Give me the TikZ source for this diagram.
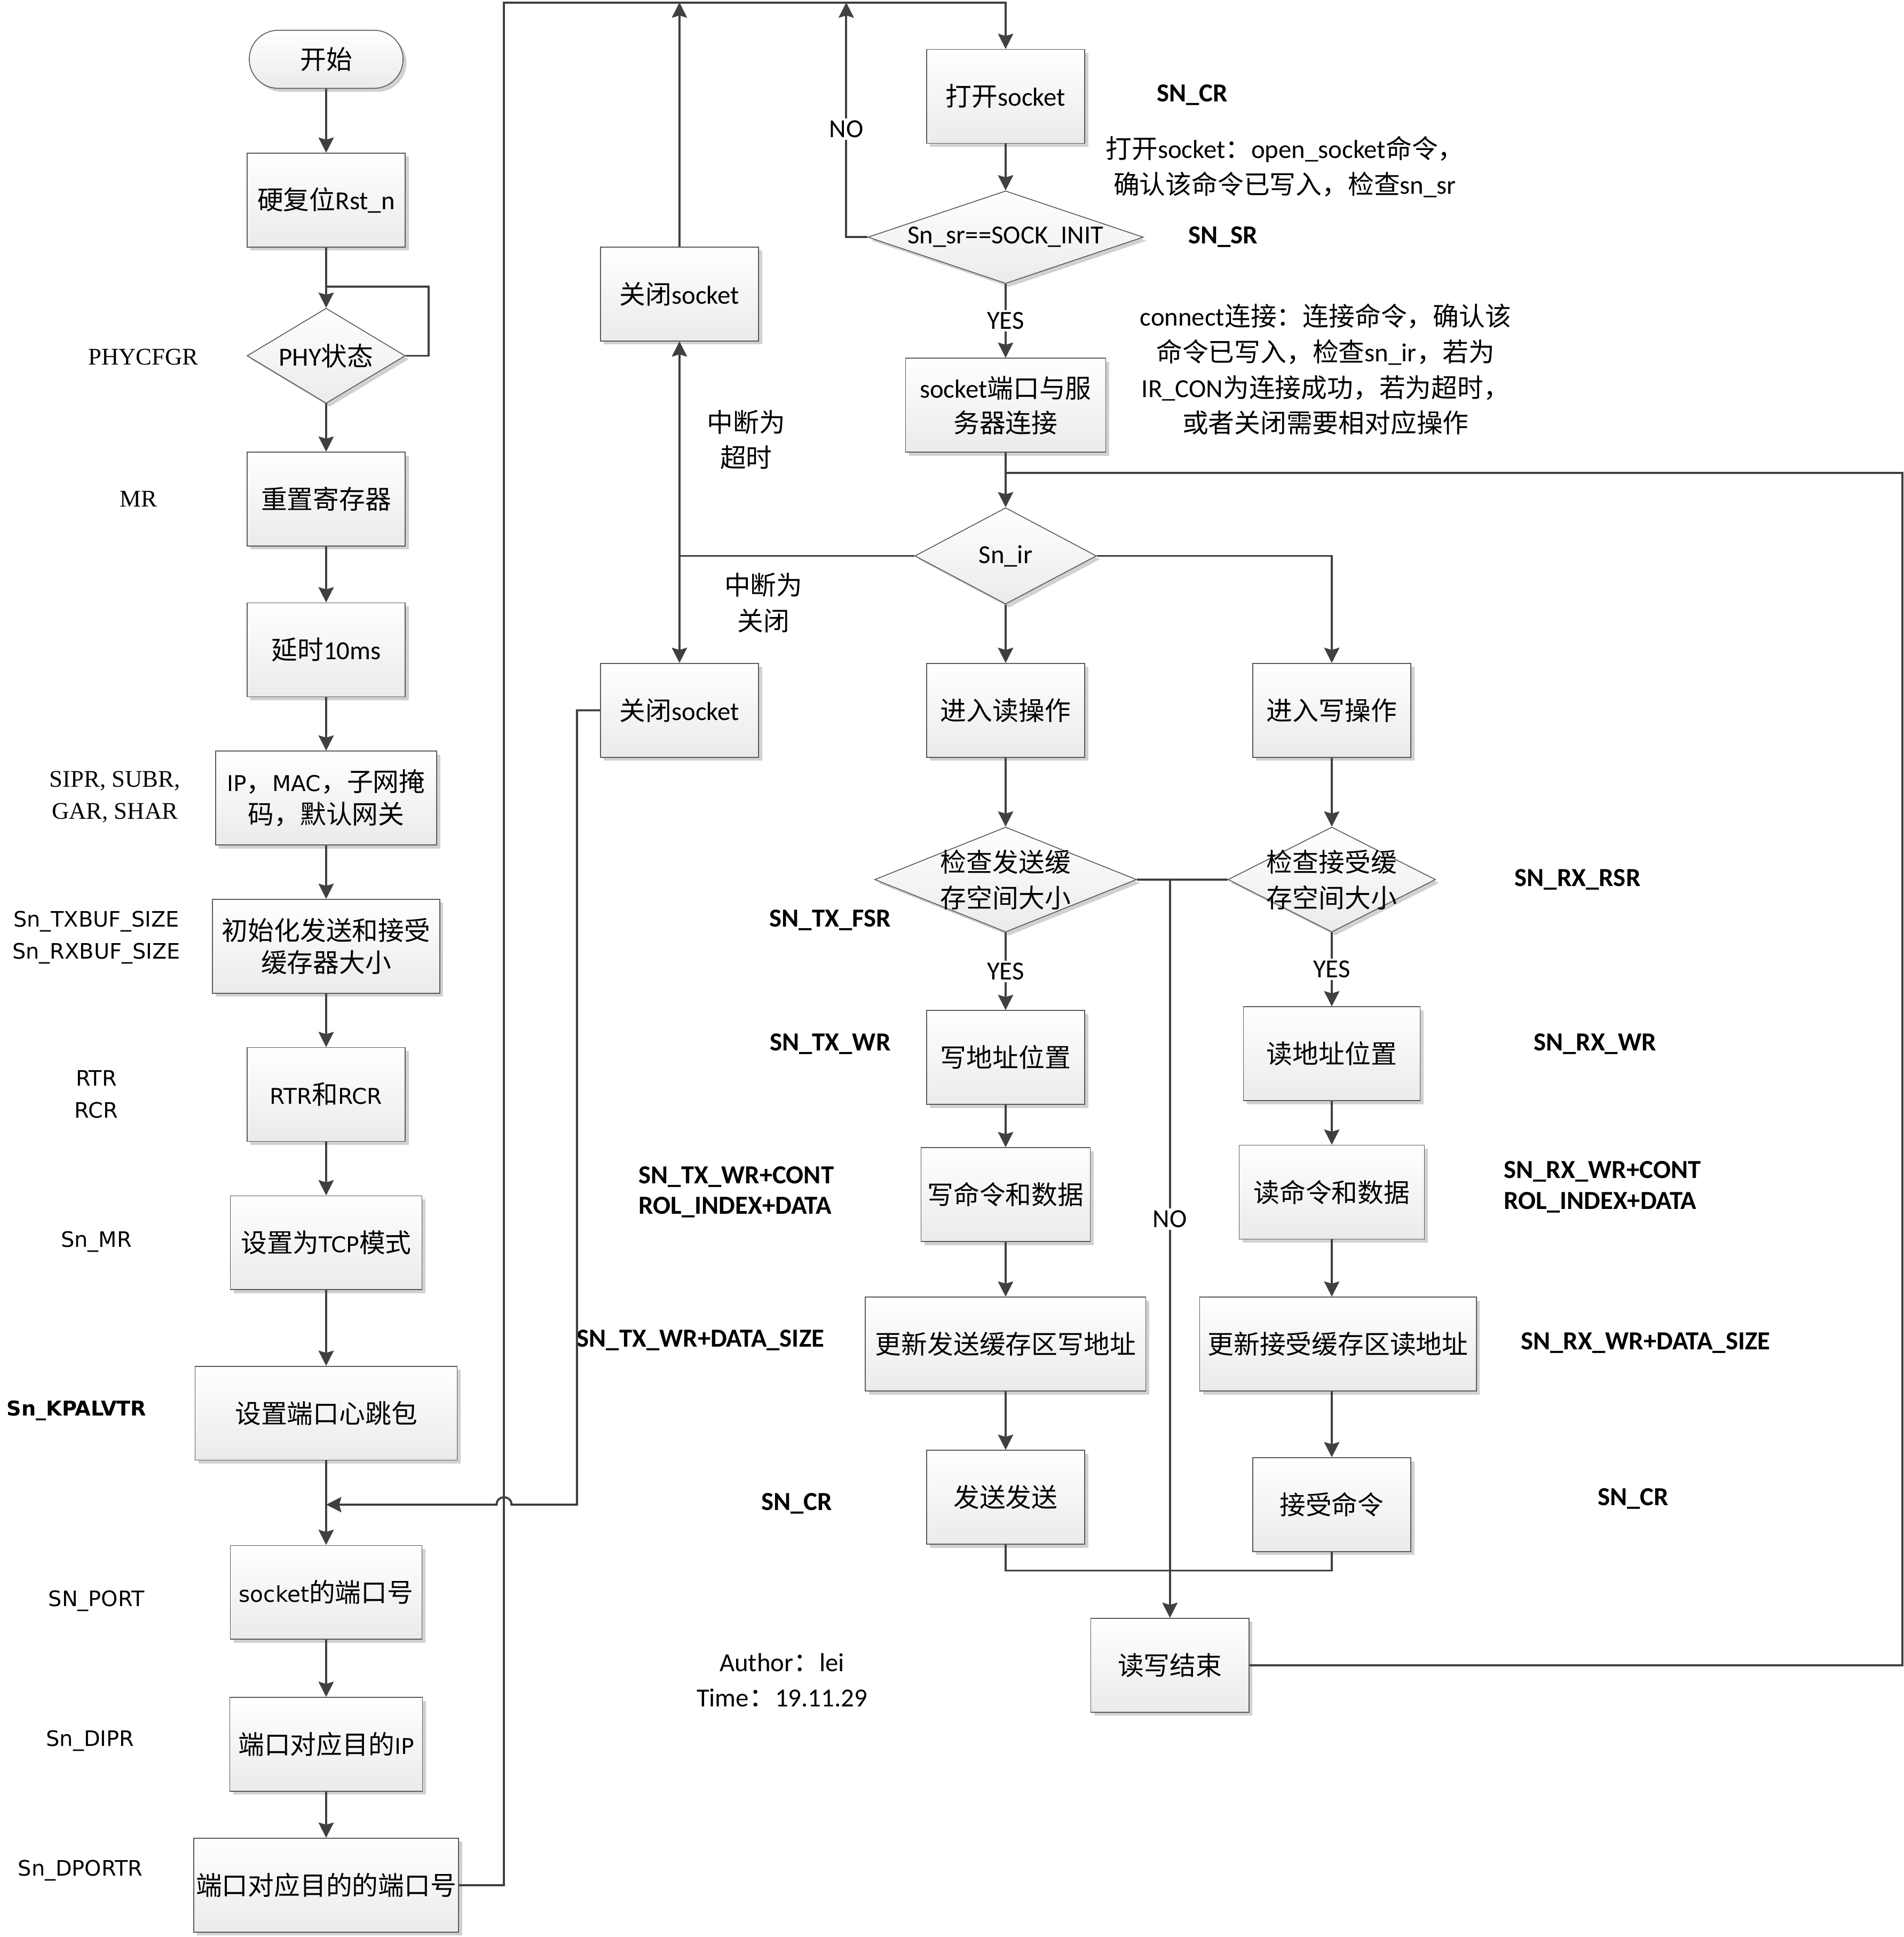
\documentclass[tikz,border=0pt]{standalone}
\usepackage{fontspec}
\usepackage{xcolor}
\setmainfont{Carlito}
\newfontfamily\zhfont{Noto Sans CJK SC}
\newfontfamily\verd{DejaVu Sans}
\newfontfamily\tms{Liberation Serif}
\usetikzlibrary{arrows.meta, positioning, shapes.geometric, shapes.misc, shadows}
\newcommand{\zh}[1]{{\zhfont #1}}
\newcommand{\vs}[1]{{\verd\fontsize{10}{14.8}\selectfont #1}}
\newcommand{\gu}{0.02cm}
\definecolor{flowline}{RGB}{64, 64, 64}
\definecolor{flowedge}{RGB}{90, 90, 90}

\begin{document}
\begin{tikzpicture}[
    x=0.02cm, y=-0.02cm,
    font=\fontsize{12}{14.8}\selectfont,
    box/.style={draw=flowedge, line width=0.4pt, rectangle, top color=white, bottom color=black!8,
        minimum width=128*\gu, minimum height=76*\gu, inner sep=1pt, align=center,
        drop shadow={shadow xshift=1.6pt, shadow yshift=-1.6pt, fill=black!18, opacity=1}},
    terminal/.style={box, rounded rectangle, minimum height=47*\gu},
    decision/.style={box, diamond, inner sep=0pt},
    dtext/.style={align=center, font=\fontsize{12}{16.5}\selectfont},
    edge/.style={draw=flowline, line width=0.95pt, -{Stealth[length=7pt, width=7pt, inset=1pt]}},
    wire/.style={draw=flowline, line width=0.95pt},
    tag/.style={fill=white, inner sep=1pt},
    note/.style={align=center, font=\fontsize{12}{16.4}\selectfont},
    reg/.style={align=left, font=\bfseries\fontsize{12}{14.2}\selectfont},
    vreg/.style={align=center, font=\verd\fontsize{9.8}{14.8}\selectfont},
    sreg/.style={align=center, font=\tms\fontsize{11}{14.8}\selectfont},
]
\useasboundingbox (0,0) rectangle (1541,1568);

% Init column
\node[terminal] (begin) at (264,48) {\zh{开始}};
\node[box] (rst) at (264,162) {\zh{硬复位}Rst\_n};
\node[decision, minimum width=128*\gu, minimum height=77*\gu, label={[dtext]center:PHY\zh{状态}}] (phy) at (264,288) {};
\node[box] (mr) at (264,404) {\zh{重置寄存器}};
\node[box] (delay) at (264,526) {\zh{延时}10ms};
\node[box, minimum width=179*\gu] (netcfg) at (264,646) {\vs{IP}\zh{，}\vs{MAC}\zh{，子网掩}\\\zh{码，默认网关}};
\node[box, minimum width=184*\gu] (bufsz) at (264,766) {\zh{初始化发送和接受}\\\zh{缓存器大小}};
\node[box] (retry) at (264,886) {\vs{RTR}\zh{和}\vs{RCR}};
\node[box, minimum width=155*\gu] (tcp) at (264,1006) {\zh{设置为}\vs{TCP}\zh{模式}};
\node[box, minimum width=212*\gu] (keep) at (264,1144) {\zh{设置端口心跳包}};
\node[box, minimum width=155*\gu] (port) at (264,1289) {\vs{socket}\zh{的端口号}};
\node[box, minimum width=156*\gu] (dip) at (264,1412) {\zh{端口对应目的}\vs{IP}};
\node[box, minimum width=212*\gu] (dport) at (264,1526) {\zh{端口对应目的的端口号}};

% Register names, left
\node[sreg] (r-phy) at (116,289) {PHYCFGR};
\node[sreg] (r-mr) at (112,404) {MR};
\node[sreg] (r-net) at (93,645) {SIPR, SUBR,\\GAR, SHAR};
\node[vreg] (r-buf) at (78,759) {Sn\_TXBUF\_SIZE\\Sn\_RXBUF\_SIZE};
\node[vreg] (r-rtr) at (78,886) {RTR\\RCR};
\node[vreg] (r-mode) at (78,1005) {Sn\_MR};
\node[vreg, font=\verd\bfseries\fontsize{9.4}{12}\selectfont] (r-kp) at (62,1142) {Sn\_KPALVTR};
\node[vreg] (r-port) at (78,1296) {SN\_PORT};
\node[vreg] (r-dip) at (73,1409) {Sn\_DIPR};
\node[vreg] (r-dport) at (65,1514) {Sn\_DPORTR};

% Socket open / connect
\node[box] (open) at (814,78) {\zh{打开}socket};
\node[decision, minimum width=223*\gu, minimum height=75*\gu, label={[dtext]center:Sn\_sr==SOCK\_INIT}] (sr) at (814,192) {};
\node[box, minimum width=162*\gu, font=\fontsize{12}{16}\selectfont] (conn) at (814,328) {socket\zh{端口与服}\\\zh{务器连接}};
\node[decision, minimum width=147*\gu, minimum height=78*\gu, label={[dtext]center:Sn\_ir}] (ir) at (814,450) {};
\node[box] (close1) at (550,238) {\zh{关闭}socket};
\node[box] (close2) at (550,575) {\zh{关闭}socket};

% Read / write branches
\node[box] (rop) at (814,575) {\zh{进入读操作}};
\node[box] (wop) at (1078,575) {\zh{进入写操作}};
\node[decision, minimum width=212*\gu, minimum height=85*\gu, label={[dtext]center:\zh{检查发送缓}\\\zh{存空间大小}}] (chktx) at (814,712) {};
\node[decision, minimum width=168*\gu, minimum height=85*\gu, label={[dtext]center:\zh{检查接受缓}\\\zh{存空间大小}}] (chkrx) at (1078,712) {};
\node[box] (waddr) at (814,856) {\zh{写地址位置}};
\node[box, minimum width=143*\gu] (raddr) at (1078,853) {\zh{读地址位置}};
\node[box, minimum width=137*\gu] (wcmd) at (814,967) {\zh{写命令和数据}};
\node[box, minimum width=150*\gu] (rcmd) at (1078,965) {\zh{读命令和数据}};
\node[box, minimum width=227*\gu] (wupd) at (814,1088) {\zh{更新发送缓存区写地址}};
\node[box, minimum width=224*\gu] (rupd) at (1083,1088) {\zh{更新接受缓存区读地址}};
\node[box] (send) at (814,1212) {\zh{发送发送}};
\node[box] (recv) at (1078,1218) {\zh{接受命令}};
\node[box] (done) at (947,1348) {\zh{读写结束}};

% Notes, right
\node[reg] (r-cr) at (965,77) {SN\_CR};
\node[note] (n-open) at (1040,135) {\zh{打开}socket\zh{：}open\_socket\zh{命令，}\\\zh{确认该命令已写入，检查}sn\_sr};
\node[reg] (r-sr) at (990,192) {SN\_SR};
\node[note] (n-conn) at (1073,299) {connect\zh{连接：连接命令，确认该}\\\zh{命令已写入，检查}sn\_ir\zh{，若为}\\IR\_CON\zh{为连接成功，若为超时，}\\\zh{或者关闭需要相对应操作}};
\node[note] (n-tmo) at (604,356) {\zh{中断为}\\\zh{超时}};
\node[note] (n-cls) at (618,488) {\zh{中断为}\\\zh{关闭}};
\node[reg] (r-fsr) at (672,745) {SN\_TX\_FSR};
\node[reg] (r-rsr) at (1277,712) {SN\_RX\_RSR};
\node[reg] (r-txwr) at (672,845) {SN\_TX\_WR};
\node[reg] (r-rxwr) at (1291,845) {SN\_RX\_WR};
\node[reg] (r-txcmd) at (596,965) {SN\_TX\_WR+CONT\\ROL\_INDEX+DATA};
\node[reg] (r-rxcmd) at (1297,961) {SN\_RX\_WR+CONT\\ROL\_INDEX+DATA};
\node[reg] (r-txupd) at (567,1085) {SN\_TX\_WR+DATA\_SIZE};
\node[reg] (r-rxupd) at (1332,1087) {SN\_RX\_WR+DATA\_SIZE};
\node[reg] (r-txcr) at (645,1217) {SN\_CR};
\node[reg] (r-rxcr) at (1322,1213) {SN\_CR};
\node[note] (author) at (633,1360) {Author\zh{：}lei\\Time\zh{：}19.11.29};

% Helper points
\coordinate (top) at (408,2);
\coordinate (noup) at (685,2);
\coordinate (phyloop) at (347,232);
\coordinate (kink) at (467,1218);
\coordinate (back) at (1540,383);
\coordinate (irsplit) at (close1.south |- ir.west);

% Edges, init column
\draw[edge] (begin) -- (rst);
\draw[edge] (rst) -- (phy);
\draw[wire] (phy.east) -| (phyloop) -- (phyloop -| phy.north);
\draw[edge] (phy) -- (mr);
\draw[edge] (mr) -- (delay);
\draw[edge] (delay) -- (netcfg);
\draw[edge] (netcfg) -- (bufsz);
\draw[edge] (bufsz) -- (retry);
\draw[edge] (retry) -- (tcp);
\draw[edge] (tcp) -- (keep);
\draw[edge] (keep) -- (port);
\draw[edge] (port) -- (dip);
\draw[edge] (dip) -- (dport);
\draw[edge] (dport.east) -| (top) -| (open.north);

% Edges, socket
\draw[edge] (open) -- (sr);
\draw[edge] (sr.west) -| (noup) node[pos=0.73, tag] {NO};
\draw[edge] (sr) -- (conn) node[midway, tag] {YES};
\draw[edge] (conn) -- (ir);
\draw[wire] (ir.west) -- (irsplit);
\draw[edge] (irsplit) -- (close1.south);
\draw[edge] (irsplit) -- (close2.north);
\draw[edge] (close1.north) -- (close1.north |- top);
\draw[edge] (close2.west) -| (kink) -- ++(-53,0) .. controls +(0,-8) and +(0,-8) .. ++(-12,0) -- (kink -| keep.south);

% Edges, read / write
\draw[edge] (ir) -- (rop);
\draw[edge] (ir.east) -| (wop.north);
\draw[edge] (rop) -- (chktx);
\draw[edge] (wop) -- (chkrx);
\draw[wire] (chktx.east) -- (chkrx.west);
\draw[edge] (chktx.east -| done.north) -- (done.north) node[pos=0.46, tag] {NO};
\draw[edge] (chktx) -- (waddr) node[midway, tag] {YES};
\draw[edge] (chkrx) -- (raddr) node[midway, tag] {YES};
\draw[edge] (waddr) -- (wcmd);
\draw[edge] (wcmd) -- (wupd);
\draw[edge] (wupd) -- (send);
\draw[edge] (raddr) -- (rcmd);
\draw[edge] (rcmd.south) -- (rcmd.south |- rupd.north);
\draw[edge] (rupd.south -| recv.north) -- (recv.north);
\draw[wire] (send.south) -- ++(0,21) -| (recv.south);
\draw[wire] (done.east) -| (back) -- (back -| conn.south);

\end{tikzpicture}
\end{document}
